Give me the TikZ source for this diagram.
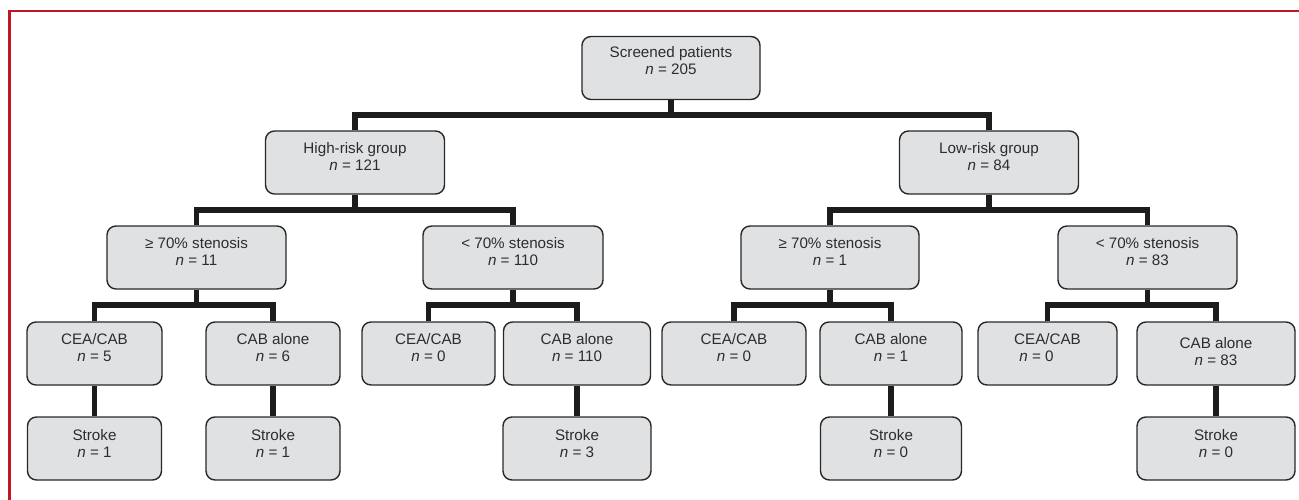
\documentclass[tikz,border=0pt]{standalone}
\usepackage{fontspec}
\setmainfont{Liberation Sans}
\definecolor{boxfill}{RGB}{224,225,227}
\definecolor{boxline}{RGB}{40,40,40}
\definecolor{txt}{RGB}{45,45,45}
\definecolor{conncol}{RGB}{28,28,28}
\definecolor{frame}{RGB}{192,24,34}
\begin{document}
\begin{tikzpicture}[x=1pt,y=-1pt,
  box/.style={draw=boxline, line width=1.4pt, fill=boxfill, rounded corners=9pt,
    minimum height=63pt, inner sep=0pt},
  lbl/.style={align=center, font=\fontsize{15.2}{17}\selectfont, text=txt, inner sep=0pt},
  conn/.style={line width=5.6pt, draw=conncol}]
\useasboundingbox (0,0) rectangle (1299,500);
% red frame
\draw[frame, line width=2.6pt] (9.7,500) -- (9.7,11) -- (1299,11);

% level 1
\node[box, minimum width=178pt, label={[lbl,yshift=7pt]center:{Screened patients\\\textit{n} = 205}}] (top) at (671,68) {};
% level 2
\node[box, minimum width=179pt, label={[lbl,yshift=6pt]center:{High-risk group\\\textit{n} = 121}}] (hr) at (355,162.5) {};
\node[box, minimum width=179pt, label={[lbl,yshift=6pt]center:{Low-risk group\\\textit{n} = 84}}] (lr) at (989,162.5) {};
% level 3
\node[box, minimum width=179pt, label={[lbl,yshift=6pt]center:{≥ 70\% stenosis\\\textit{n} = 11}}] (s11) at (196.5,257.5) {};
\node[box, minimum width=180pt, label={[lbl,yshift=6pt]center:{< 70\% stenosis\\\textit{n} = 110}}] (s110) at (513,257.5) {};
\node[box, minimum width=178pt, label={[lbl,yshift=6pt]center:{≥ 70\% stenosis\\\textit{n} = 1}}] (s1) at (830,257.5) {};
\node[box, minimum width=179pt, label={[lbl,yshift=6pt]center:{< 70\% stenosis\\\textit{n} = 83}}] (s83) at (1147.5,257.5) {};
% level 4
\node[box, minimum width=135pt, label={[lbl,yshift=6pt]center:{CEA/CAB\\\textit{n} = 5}}] (a1) at (94.5,353.5) {};
\node[box, minimum width=134pt, label={[lbl,yshift=6pt]center:{CAB alone\\\textit{n} = 6}}] (a2) at (273,353.5) {};
\node[box, minimum width=133pt, label={[lbl,yshift=6pt]center:{CEA/CAB\\\textit{n} = 0}}] (b1) at (428.5,353.5) {};
\node[box, minimum width=147pt, label={[lbl,yshift=6pt]center:{CAB alone\\\textit{n} = 110}}] (b2) at (577,353.5) {};
\node[box, minimum width=144pt, label={[lbl,yshift=6pt]center:{CEA/CAB\\\textit{n} = 0}}] (c1) at (734,353.5) {};
\node[box, minimum width=142pt, label={[lbl,yshift=6pt]center:{CAB alone\\\textit{n} = 1}}] (c2) at (891,353.5) {};
\node[box, minimum width=139pt, label={[lbl,yshift=6pt]center:{CEA/CAB\\\textit{n} = 0\kern22pt}}] (d1) at (1047.5,353.5) {};
\node[box, minimum width=158pt, label={[lbl,yshift=2pt]center:{CAB alone\\\textit{n} = 83}}] (d2) at (1216,353.5) {};
% level 5
\node[box, minimum width=134pt, label={[lbl,yshift=5pt]center:{Stroke\\\textit{n} = 1}}] (e1) at (94.5,448.5) {};
\node[box, minimum width=134pt, label={[lbl,yshift=5pt]center:{Stroke\\\textit{n} = 1}}] (e2) at (273,448.5) {};
\node[box, minimum width=148pt, label={[lbl,yshift=5pt]center:{Stroke\\\textit{n} = 3}}] (e3) at (577,448.5) {};
\node[box, minimum width=141pt, label={[lbl,yshift=5pt]center:{Stroke\\\textit{n} = 0}}] (e4) at (891,448.5) {};
\node[box, minimum width=158pt, label={[lbl,yshift=5pt]center:{Stroke\\\textit{n} = 0}}] (e5) at (1216,448.5) {};

% connectors
\coordinate (y1) at (0,115);
\coordinate (y2) at (0,210);
\coordinate (y3) at (0,305);
\draw[conn] (top.south) -- (top.south|-y1);
\draw[conn] (hr.north) -- (hr.north|-y1) -- (lr.north|-y1) -- (lr.north);

\draw[conn] (hr.south) -- (hr.south|-y2);
\draw[conn] (s11.north) -- (s11.north|-y2) -- (s110.north|-y2) -- (s110.north);
\draw[conn] (lr.south) -- (lr.south|-y2);
\draw[conn] (s1.north) -- (s1.north|-y2) -- (s83.north|-y2) -- (s83.north);

\draw[conn] (s11.south) -- (s11.south|-y3);
\draw[conn] (a1.north) -- (a1.north|-y3) -- (a2.north|-y3) -- (a2.north);
\draw[conn] (s110.south) -- (s110.south|-y3);
\draw[conn] (b1.north) -- (b1.north|-y3) -- (b2.north|-y3) -- (b2.north);
\draw[conn] (s1.south) -- (s1.south|-y3);
\draw[conn] (c1.north) -- (c1.north|-y3) -- (c2.north|-y3) -- (c2.north);
\draw[conn] (s83.south) -- (s83.south|-y3);
\draw[conn] (d1.north) -- (d1.north|-y3) -- (d2.north|-y3) -- (d2.north);

\draw[conn] (a1.south) -- (e1.north);
\draw[conn] (a2.south) -- (e2.north);
\draw[conn] (b2.south) -- (e3.north);
\draw[conn] (c2.south) -- (e4.north);
\draw[conn] (d2.south) -- (e5.north);
\end{tikzpicture}
\end{document}
